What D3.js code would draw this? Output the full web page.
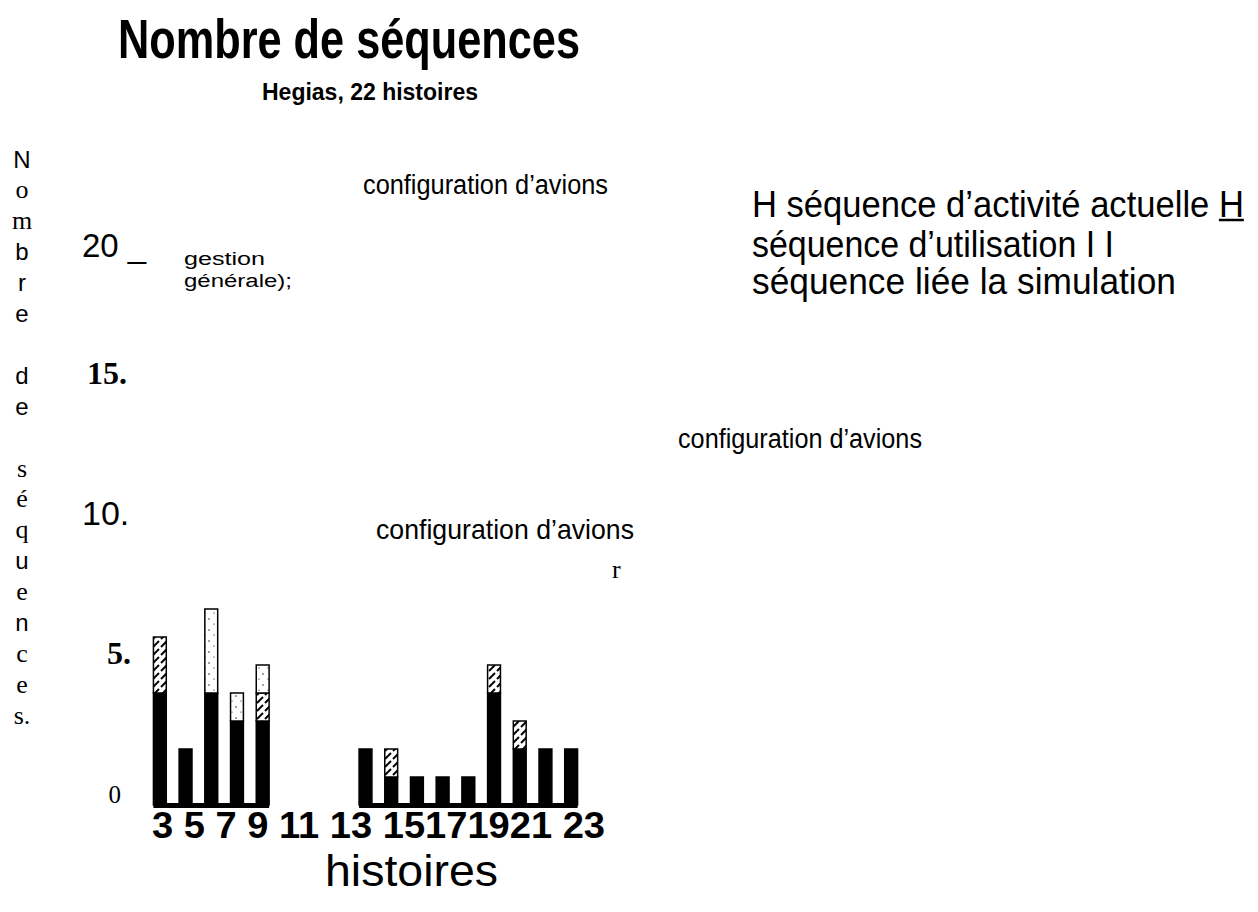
<!DOCTYPE html>
<html><head><meta charset="utf-8">
<script src="https://cdn.jsdelivr.net/npm/d3@7/dist/d3.min.js"></script>
<style>body{margin:0;background:#fff}</style>
</head><body>
<svg id="c" width="1258" height="912"></svg>
<script>
// ---- data ----
const histoires   = ["3","4","5","6","7","8","9","10","11","12","13","14","15","16","17","18","19"];
const actuelle    = [4,2,4,3,3, 0,0,0, 2,1,1,1,1,4,2,2,2];
const utilisation = [2,0,0,0,1, 0,0,0, 0,1,0,0,0,1,1,0,0];
const simulation  = [0,0,3,1,1, 0,0,0, 0,0,0,0,0,0,0,0,0];
const seriesKeys  = ["actuelle","utilisation","simulation"];
const yTickValues = [0,5,10,15,20];
const yTickLabels = ["0","5.","10.","15.","20 _"];
const xTickLabels = ["3","5","7","9","11","13","15171921","23"];
const yLabelChars = ["N","o","m","b","r","e","","d","e","","s","é","q","u","e","n","c","e","s."];
const serifChars  = new Set([1,2,10,11,12,14,16,17,18]);
const legendLines = ["H séquence d\u2019activité actuelle H", "séquence d\u2019utilisation I I", "séquence liée la simulation"];

const NARROW = "'Liberation Sans Narrow','Arial Narrow','Liberation Sans',Arial,sans-serif";
const SANS = "'Liberation Sans',Arial,sans-serif";
const SERIF = "'Liberation Serif','Times New Roman',serif";

const svg = d3.select("#c");
const defs = svg.append("defs");
const hatch = defs.append("pattern").attr("id","hatch").attr("patternUnits","userSpaceOnUse")
  .attr("width",8).attr("height",8);
hatch.append("rect").attr("width",8).attr("height",8).attr("fill","#fff");
hatch.append("path").attr("d","M1,7 L7,1").attr("stroke","#000").attr("stroke-width",2);
const dots = defs.append("pattern").attr("id","dots").attr("patternUnits","userSpaceOnUse")
  .attr("width",9).attr("height",11);
dots.append("rect").attr("width",9).attr("height",11).attr("fill","#fff");
dots.append("circle").attr("cx",2).attr("cy",3).attr("r",0.7).attr("fill","#000");
dots.append("circle").attr("cx",7).attr("cy",8).attr("r",0.6).attr("fill","#000");

const fills = {actuelle:"#000", utilisation:"url(#hatch)", simulation:"url(#dots)"};

// ---- scales ----
const x = d3.scaleBand().domain(histoires).range([147,584]).paddingInner(0.5).paddingOuter(0.25);
const y = d3.scaleLinear().domain([0,20]).range([805,245]);

const rows = histoires.map((h,i)=>({h, actuelle:actuelle[i], utilisation:utilisation[i], simulation:simulation[i]}));
const stacked = d3.stack().keys(seriesKeys)(rows);

// bars
const gBars = svg.append("g");
stacked.forEach(s=>{
  gBars.selectAll(null).data(s.filter(d=>d[1]>d[0])).join("rect")
    .attr("x",d=>x(d.data.h)).attr("width",x.bandwidth())
    .attr("y",d=>y(d[1])).attr("height",d=>y(d[0])-y(d[1]))
    .attr("fill",fills[s.key]).attr("stroke","#000").attr("stroke-width",1.5);
});

// base strips under contiguous groups
const totals = rows.map(r=>r.actuelle+r.utilisation+r.simulation);
const groups=[]; let cur=null;
totals.forEach((t,i)=>{ if(t>0){ if(!cur){cur=[i,i];groups.push(cur);} else cur[1]=i; } else cur=null; });
svg.append("g").selectAll("rect").data(groups).join("rect")
  .attr("x",g=>x(histoires[g[0]])).attr("width",g=>x(histoires[g[1]])+x.bandwidth()-x(histoires[g[0]]))
  .attr("y",y(0)-2).attr("height",5).attr("fill","#000");

// y tick labels
const yTickStyle = [
  {f:SERIF,w:"normal",s:25,a:"end",x:121,dy:-11},
  {f:SERIF,w:"bold",s:32,a:"end",x:131,dy:-12},
  {f:SANS,w:"normal",s:34,a:"start",x:82,dy:-12},
  {f:SERIF,w:"bold",s:32,a:"start",x:87,dy:-12},
  {f:SANS,w:"normal",s:33,a:"start",x:82,dy:0}
];
svg.append("g").selectAll("text").data(yTickValues).join("text")
  .attr("x",(d,i)=>yTickStyle[i].x).attr("y",(d,i)=>y(d)+yTickStyle[i].dy)
  .attr("dominant-baseline","central")
  .attr("text-anchor",(d,i)=>yTickStyle[i].a)
  .attr("font-family",(d,i)=>yTickStyle[i].f).attr("font-weight",(d,i)=>yTickStyle[i].w)
  .attr("font-size",(d,i)=>yTickStyle[i].s)
  .text((d,i)=>yTickLabels[i]);

// x tick labels (as printed)
svg.append("text").attr("x",152).attr("y",838)
  .attr("font-family",SANS).attr("font-weight","bold").attr("font-size",36)
  .attr("textLength",453).attr("lengthAdjust","spacingAndGlyphs")
  .text(xTickLabels.join(" "));

// x axis title
svg.append("text").attr("x",325).attr("y",886)
  .attr("font-family",NARROW).attr("font-size",45)
  .attr("textLength",173).attr("lengthAdjust","spacingAndGlyphs")
  .text("histoires");

// y axis title, stacked letters
svg.append("g").selectAll("text").data(yLabelChars).join("text")
  .attr("x",22).attr("y",(d,i)=>159+i*30.9)
  .attr("dominant-baseline","central").attr("text-anchor","middle")
  .attr("font-family",(d,i)=>serifChars.has(i)?SERIF:SANS)
  .attr("font-size",(d,i)=>serifChars.has(i)?26:24)
  .text(d=>d);

// title & subtitle
svg.append("text").attr("x",118).attr("y",58)
  .attr("font-family",NARROW).attr("font-weight","bold").attr("font-size",56)
  .attr("textLength",462).attr("lengthAdjust","spacingAndGlyphs")
  .text("Nombre de séquences");
svg.append("text").attr("x",262).attr("y",100)
  .attr("font-family",NARROW).attr("font-weight","bold").attr("font-size",23)
  .attr("textLength",216).attr("lengthAdjust","spacingAndGlyphs")
  .text("Hegias, 22 histoires");

// stray annotations
const ann = (t,xx,yy,len,size,fam)=>svg.append("text").attr("x",xx).attr("y",yy)
  .attr("font-family",fam||NARROW).attr("font-size",size)
  .attr("textLength",len).attr("lengthAdjust","spacingAndGlyphs").text(t);
ann("configuration d\u2019avions",363,194,245,27);
ann("gestion",184,265,81,18);
ann("générale);",184,287,108,18);
ann("configuration d\u2019avions",678,448,244,27);
ann("configuration d\u2019avions",376,539,258,28);
svg.append("text").attr("x",612).attr("y",578).attr("font-family",SERIF).attr("font-size",26).text("r");

// legend text
const lg = svg.append("g").attr("font-family",NARROW);
// line 1: sized so its natural width fits, then stretched vertically
const g1 = lg.append("g");
const l1 = g1.append("text").attr("x",0).attr("y",0).attr("font-size",37).text(legendLines[0]);
const nat = l1.node().getComputedTextLength();
const fs1 = 37*492/nat;
l1.attr("font-size",fs1);
const k = 37/fs1;
g1.attr("transform",`translate(752,217) scale(1,${k})`);
const ext = l1.node().getExtentOfChar(legendLines[0].length-1);
g1.append("line").attr("x1",ext.x).attr("x2",ext.x+ext.width)
  .attr("y1",3/k).attr("y2",3/k).attr("stroke","#000").attr("stroke-width",2.5/k);
lg.append("text").attr("x",752).attr("y",257).attr("font-size",37).attr("textLength",362).attr("lengthAdjust","spacingAndGlyphs").text(legendLines[1]);
lg.append("text").attr("x",752).attr("y",294).attr("font-size",37).attr("textLength",424).attr("lengthAdjust","spacingAndGlyphs").text(legendLines[2]);
</script>
</body></html>
